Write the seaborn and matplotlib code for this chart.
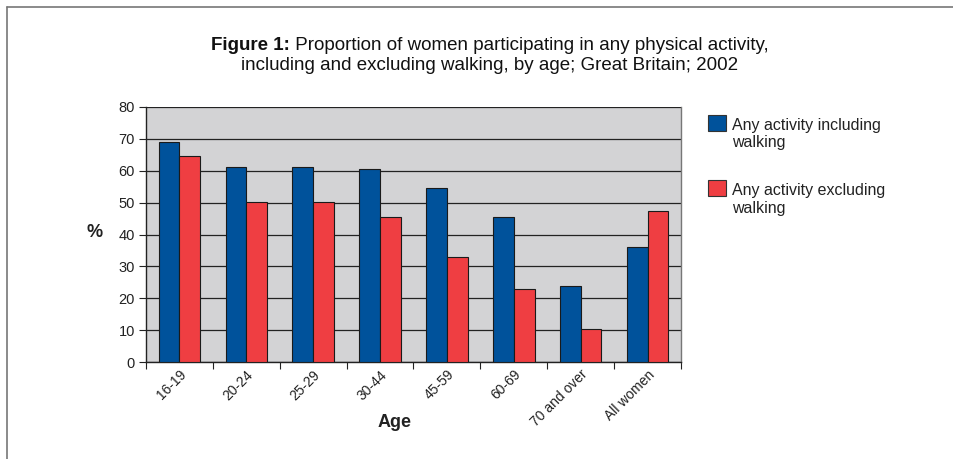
import matplotlib
matplotlib.use("Agg")
import matplotlib.pyplot as plt
import seaborn as sns
import pandas as pd
from matplotlib.lines import Line2D
from matplotlib.ticker import FixedLocator

categories = ["16-19", "20-24", "25-29", "30-44", "45-59", "60-69", "70 and over", "All women"]
including_walking = [69.0, 61.3, 61.3, 60.6, 54.5, 45.6, 23.9, 36.1]
excluding_walking = [64.5, 50.1, 50.1, 45.5, 32.8, 22.8, 10.4, 47.3]
series_names = ["Any activity including\nwalking", "Any activity excluding\nwalking"]
yticks = [0, 10, 20, 30, 40, 50, 60, 70, 80]

df = pd.DataFrame({
    "Age": categories * 2,
    "value": including_walking + excluding_walking,
    "series": [series_names[0]] * len(categories) + [series_names[1]] * len(categories),
})

sns.set_theme(style="white")
plt.rcParams["font.family"] = ["Liberation Sans", "DejaVu Sans"]

W, H = 954, 459
fig = plt.figure(figsize=(W / 100, H / 100), dpi=100)
ax = fig.add_axes([146 / W, 1 - 362 / H, 535 / W, 255 / H])
ax.set_facecolor("#D3D3D5")

sns.barplot(data=df, x="Age", y="value", hue="series", order=categories,
            hue_order=series_names, palette=["#00529B", "#EF3E42"], saturation=1,
            width=0.62, gap=0, edgecolor="#1a1a1a", linewidth=0.8,
            ax=ax, legend=True, zorder=3)

ax.set_ylim(0, 80)
ax.set_xlim(-0.5, len(categories) - 0.5)
ax.set_yticks(yticks)
ax.yaxis.grid(True, color="#222222", linewidth=0.9, zorder=1)
ax.set_axisbelow(True)
ax.tick_params(axis="y", which="major", length=5, width=0.8, color="#222222",
               labelsize=10.5, pad=3, left=True, labelcolor="#222222")

ax.set_xticks(range(len(categories)))
ax.set_xticklabels(categories, rotation=45, ha="right", rotation_mode="anchor",
                   fontsize=10, color="#222222")
ax.tick_params(axis="x", which="major", length=0, pad=4)
ax.xaxis.set_minor_locator(FixedLocator([i + 0.5 for i in range(-1, len(categories))]))
ax.tick_params(axis="x", which="minor", length=5, width=0.8, color="#222222", bottom=True)

for side in ["left", "bottom"]:
    ax.spines[side].set_color("#222222")
    ax.spines[side].set_linewidth(1.0)
ax.spines["top"].set_visible(False)
ax.spines["right"].set_color("#777777")
ax.spines["right"].set_linewidth(1.0)

ax.set_xlabel("Age", fontsize=13, fontweight="bold", color="#222222", va="center")
ax.xaxis.set_label_coords((395 - 146) / 535, (362 - 422) / 255)
ax.set_ylabel("%", fontsize=13, fontweight="bold", color="#222222", rotation=0,
              va="center", ha="center")
ax.yaxis.set_label_coords((95 - 146) / 535, (362 - 232) / 255)

handles, labels = ax.get_legend_handles_labels()
leg = ax.legend(handles, labels, loc="upper left", bbox_to_anchor=(708 / W, 1 - 118 / H),
                bbox_transform=fig.transFigure, frameon=False, fontsize=11.5,
                handlelength=1.15, handleheight=1.1, handletextpad=0.35,
                borderpad=0, borderaxespad=0,
                labelspacing=2.05, labelcolor="#222222")
for p in leg.get_patches():
    p.set_edgecolor("#333333")
    p.set_y(p.get_y() + 8.5)

# title with bold lead-in, centered as a whole
cx = 490 / W
y1, y2 = 1 - 45 / H, 1 - 65 / H
tsize = 13.5
t_bold = fig.text(0, y1, "Figure 1:", fontsize=tsize, fontweight="bold",
                  color="#111111", va="center", ha="left")
t_rest = fig.text(0, y1, " Proportion of women participating in any physical activity,",
                  fontsize=tsize, color="#111111", va="center", ha="left")
fig.text(cx, y2, "including and excluding walking, by age; Great Britain; 2002",
         ha="center", va="center", fontsize=tsize, color="#111111")
renderer = fig.canvas.get_renderer()
wb = t_bold.get_window_extent(renderer).width
wr = t_rest.get_window_extent(renderer).width
x0 = cx * W - (wb + wr) / 2
t_bold.set_x(x0 / W)
t_rest.set_x((x0 + wb) / W)

# frame border
fig.add_artist(Line2D([7 / W, 1.0], [1 - 7 / H, 1 - 7 / H], transform=fig.transFigure,
                      color="#777777", linewidth=1.2))
fig.add_artist(Line2D([7 / W, 7 / W], [0.0, 1 - 7 / H], transform=fig.transFigure,
                      color="#777777", linewidth=1.2))

fig.savefig("out.png", dpi=100)
